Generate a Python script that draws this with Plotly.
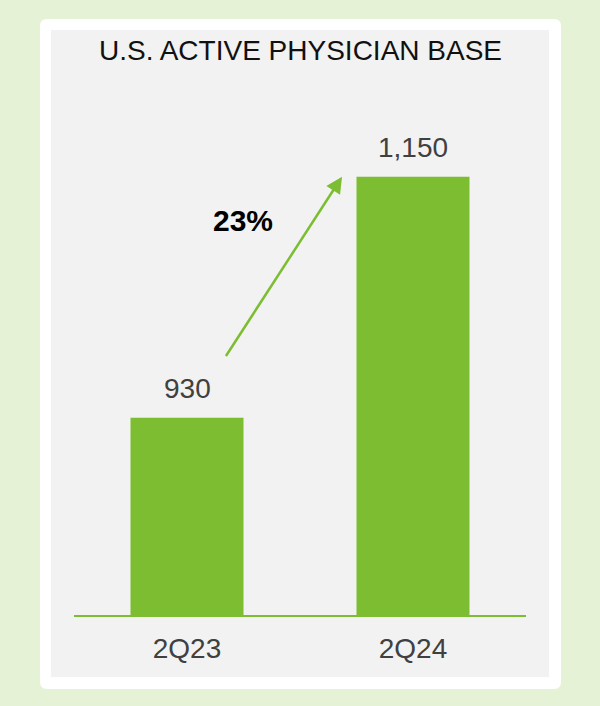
import plotly.graph_objects as go

# ---- data ----
categories = ["2Q23", "2Q24"]
values = [930, 1150]
value_labels = ["930", "1,150"]
growth_label = "23%"
title_text = "U.S. ACTIVE PHYSICIAN BASE"

# ---- style ----
GREEN = "#7cbd31"
BG = "#e5f2d6"
PANEL = "#f2f2f2"
TXT = "#404040"
FONT = "Liberation Sans, Arial, sans-serif"

W, H = 600, 706
L, R, T, B = 74, 74, 100, 91  # plot area 74..526 x, 100..615 y
pw, ph = W - L - R, H - T - B

def px_x(p):
    return (p - L) / pw

def px_y(p):
    return (H - B - p) / ph

def rounded_rect(x0, y0, x1, y1, r):
    X = lambda p: px_x(p)
    Y = lambda p: px_y(p)
    return (f"M {X(x0+r)},{Y(y0)} L {X(x1-r)},{Y(y0)} Q {X(x1)},{Y(y0)} {X(x1)},{Y(y0+r)} "
            f"L {X(x1)},{Y(y1-r)} Q {X(x1)},{Y(y1)} {X(x1-r)},{Y(y1)} "
            f"L {X(x0+r)},{Y(y1)} Q {X(x0)},{Y(y1)} {X(x0)},{Y(y1-r)} "
            f"L {X(x0)},{Y(y0+r)} Q {X(x0)},{Y(y0)} {X(x0+r)},{Y(y0)} Z")

fig = go.Figure()
fig.add_trace(go.Bar(x=categories, y=values, marker=dict(color=GREEN, line=dict(width=0)),
                     width=0.5, hoverinfo="skip"))

shapes = [
    dict(type="path", xref="paper", yref="paper", path=rounded_rect(40, 19, 561, 689, 7),
         fillcolor="white", line=dict(width=0), layer="below"),
    dict(type="rect", xref="paper", yref="paper", x0=px_x(51), x1=px_x(549),
         y0=px_y(677), y1=px_y(30), fillcolor=PANEL, line=dict(width=0), layer="below"),
]

annotations = [
    dict(text=title_text, xref="paper", yref="paper", x=0.5, y=px_y(51), showarrow=False,
         xanchor="center", yanchor="middle", font=dict(size=28, color="#111111", family=FONT)),
]
for c, v, lab in zip(categories, values, value_labels):
    annotations.append(dict(text=lab, x=c, y=v, xref="x", yref="y", showarrow=False,
                            yanchor="middle", yshift=29,
                            font=dict(size=28, color=TXT, family=FONT)))
# growth arrow from first bar's label up to the top of the second bar
annotations.append(dict(x=0.686, y=values[1], xref="x", yref="y",
                        ax=0.168, ay=values[0] + 55, axref="x", ayref="y",
                        showarrow=True, arrowhead=2, arrowsize=1.3, arrowwidth=2.5,
                        arrowcolor=GREEN, text="", standoff=0, startstandoff=0))
annotations.append(dict(text=f"<b>{growth_label}</b>", x=0.248, y=values[1] - 40, xref="x", yref="y",
                        showarrow=False, xanchor="center", yanchor="middle",
                        font=dict(size=30, color="#000000", family=FONT)))

fig.update_layout(
    width=W, height=H,
    margin=dict(l=L, r=R, t=T, b=B, pad=0),
    paper_bgcolor=BG, plot_bgcolor="rgba(0,0,0,0)",
    showlegend=False,
    shapes=shapes, annotations=annotations,
    bargap=0.5,
    xaxis=dict(range=[-0.5, 1.5], showline=True, linecolor=GREEN, linewidth=2,
               showgrid=False, zeroline=False, ticks="",
               tickfont=dict(size=28, color=TXT, family=FONT), ticklabelstandoff=7),
    yaxis=dict(range=[750, 1220], visible=False, showgrid=False, zeroline=False),
)

fig.write_html("out.html")
